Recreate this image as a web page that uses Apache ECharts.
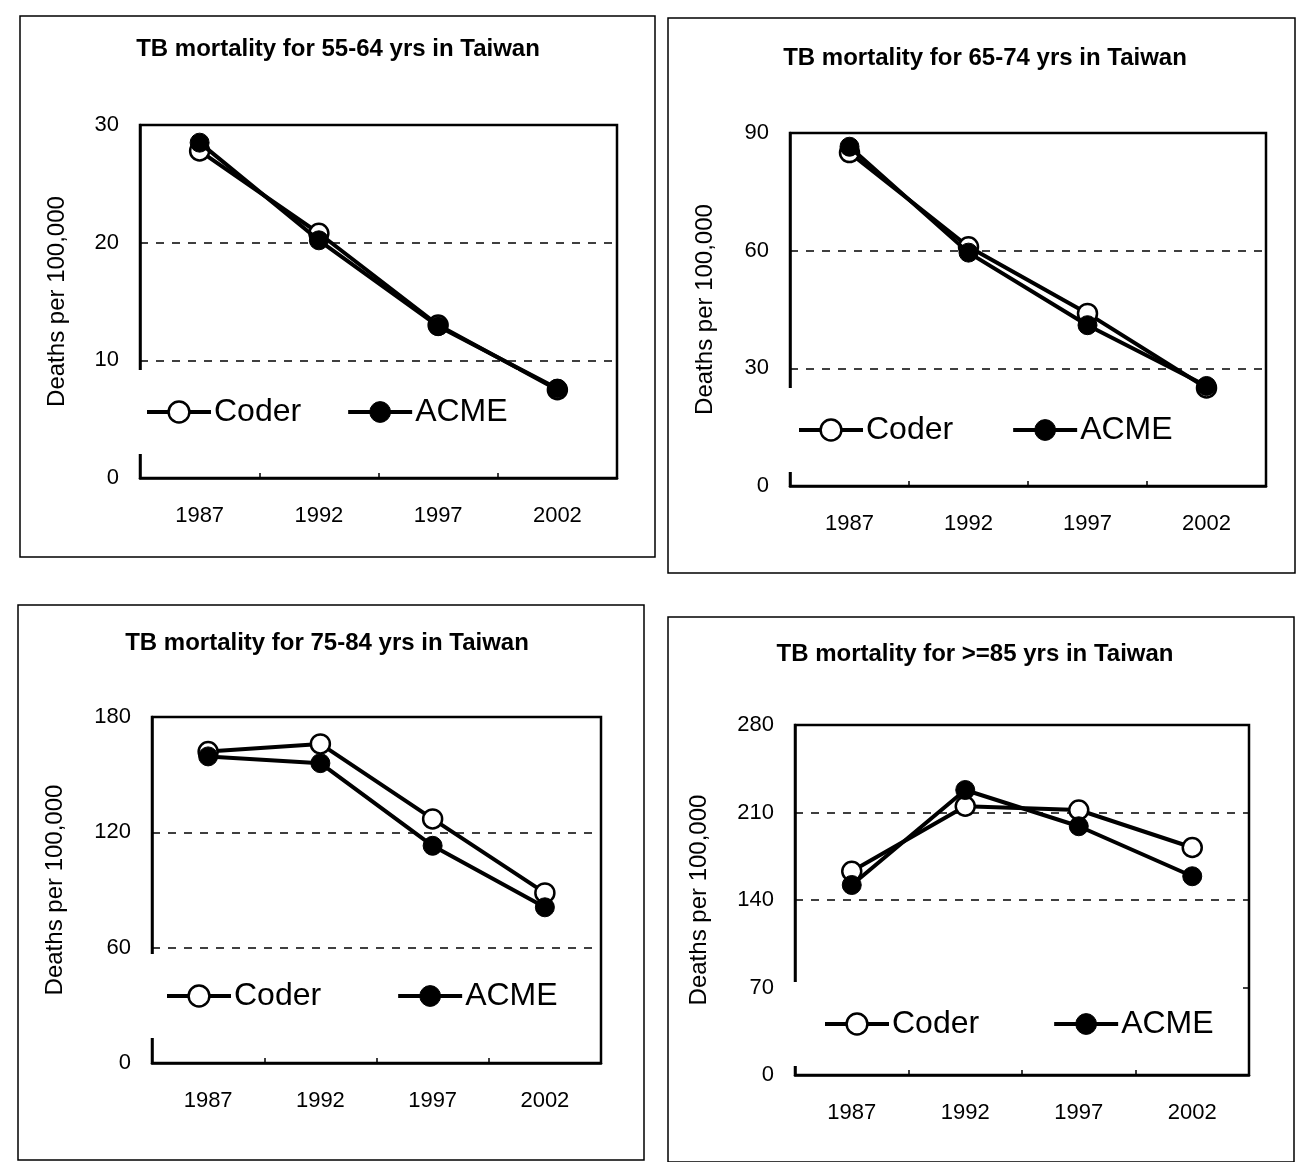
<!DOCTYPE html>
<html><head><meta charset="utf-8">
<script src="https://cdn.jsdelivr.net/npm/echarts@6/dist/echarts.min.js"></script>
<style>html,body{margin:0;padding:0;background:#fff}#c{width:1297px;height:1162px}</style>
</head><body><div id="c"></div>
<script>
const years = ['1987', '1992', '1997', '2002'];
const titles = [
  'TB mortality for 55-64 yrs in Taiwan',
  'TB mortality for 65-74 yrs in Taiwan',
  'TB mortality for 75-84 yrs in Taiwan',
  'TB mortality for >=85 yrs in Taiwan'
];
const yMax = [30, 90, 180, 280];
const yStep = [10, 30, 60, 70];
const coder1 = [27.8, 20.8, 13.0, 7.5];
const acme1 = [28.5, 20.2, 12.9, 7.6];
const coder2 = [85, 61, 44, 25];
const acme2 = [86.5, 59.5, 41, 25.5];
const coder3 = [162, 166, 127, 88.5];
const acme3 = [159.5, 156, 113, 81];
const coder4 = [163, 215, 212, 182];
const acme4 = [152, 228, 199, 159];
const coderAll = [coder1, coder2, coder3, coder4];
const acmeAll = [acme1, acme2, acme3, acme4];

// layout (pixels)
const grids = [
  {left: 140, top: 125, width: 477, height: 353},
  {left: 790, top: 133, width: 476, height: 353},
  {left: 152, top: 717, width: 449, height: 346},
  {left: 795, top: 725, width: 454, height: 350}
];
const frames = [
  [20, 16, 635, 541],
  [668, 18, 627, 555],
  [18, 605, 626, 555],
  [668, 617, 626, 545]
];
const titlePos = [[333, 32], [980, 41], [322, 626], [970, 637]];
const nameGaps = [71, 73, 85, 84];
// legend box: [left, top, padLeft, padRight, itemGap]
const legendBox = [
  [132, 370, 13, 10, 45],
  [784, 388, 13, 10, 58],
  [146, 954, 19, 10, 75],
  [789, 982, 34, 25, 73]
];

const font = 'Liberation Sans, Arial, sans-serif';
const option = {
  backgroundColor: '#fff',
  animation: false,
  title: titles.map((t, i) => ({
    text: t, left: titlePos[i][0], top: titlePos[i][1], textAlign: 'center',
    textStyle: {fontFamily: font, fontSize: 24, fontWeight: 'bold', color: '#000'}
  })),
  graphic: frames.map(f => ({
    type: 'rect', shape: {x: f[0], y: f[1], width: f[2], height: f[3]},
    style: {fill: 'none', stroke: '#000', lineWidth: 1.5}, z: -1
  })),
  grid: grids.map(g => Object.assign({show: true, borderColor: '#000', borderWidth: 2.5, backgroundColor: 'transparent'}, g)),
  legend: legendBox.map(b => ({
    data: [
      {name: 'Coder', itemStyle: {color: '#fff', borderColor: '#000', borderWidth: 2.5}},
      {name: 'ACME', itemStyle: {color: '#000', borderColor: '#000', borderWidth: 1}}
    ],
    left: b[0], top: b[1], itemWidth: 64, itemHeight: 26, itemGap: b[4],
    padding: [26, b[3], 26, b[2]], backgroundColor: '#fff',
    lineStyle: {width: 4, color: '#000'},
    textStyle: {fontFamily: font, fontSize: 32, color: '#000', padding: [0, 0, 0, -2]},
    selectedMode: false
  })),
  xAxis: grids.map((g, i) => ({
    type: 'category', gridIndex: i, data: years, boundaryGap: true,
    axisLine: {lineStyle: {color: '#000', width: 2.5}},
    axisTick: {show: true, inside: true, length: 5, lineStyle: {color: '#000', width: 1.5}},
    axisLabel: {fontFamily: font, fontSize: 22, color: '#000', margin: 27}
  })),
  yAxis: grids.map((g, i) => ({
    type: 'value', gridIndex: i, min: 0, max: yMax[i], interval: yStep[i],
    name: 'Deaths per 100,000', nameLocation: 'middle', nameGap: nameGaps[i], nameRotate: 90,
    nameTextStyle: {fontFamily: font, fontSize: 24, color: '#000'},
    axisLine: {show: true, lineStyle: {color: '#000', width: 2.5}},
    axisTick: {show: false},
    axisLabel: {fontFamily: font, fontSize: 22, color: '#000', margin: 21},
    splitLine: {show: true, lineStyle: {color: '#000', width: 1.5, type: [8, 8]}}
  })),
  series: []
};
for (let i = 0; i < 4; i++) {
  option.series.push({
    name: 'Coder', type: 'line', xAxisIndex: i, yAxisIndex: i, data: coderAll[i],
    symbol: 'circle', symbolSize: 19, z: 2,
    lineStyle: {color: '#000', width: 4},
    itemStyle: {color: '#fff', borderColor: '#000', borderWidth: 2.5}
  });
  option.series.push({
    name: 'ACME', type: 'line', xAxisIndex: i, yAxisIndex: i, data: acmeAll[i],
    symbol: 'circle', symbolSize: 19, z: 3,
    lineStyle: {color: '#000', width: 4},
    itemStyle: {color: '#000', borderColor: '#000', borderWidth: 1}
  });
}
const chart = echarts.init(document.getElementById('c'), null, {renderer: 'canvas'});
chart.setOption(option);
</script></body></html>
